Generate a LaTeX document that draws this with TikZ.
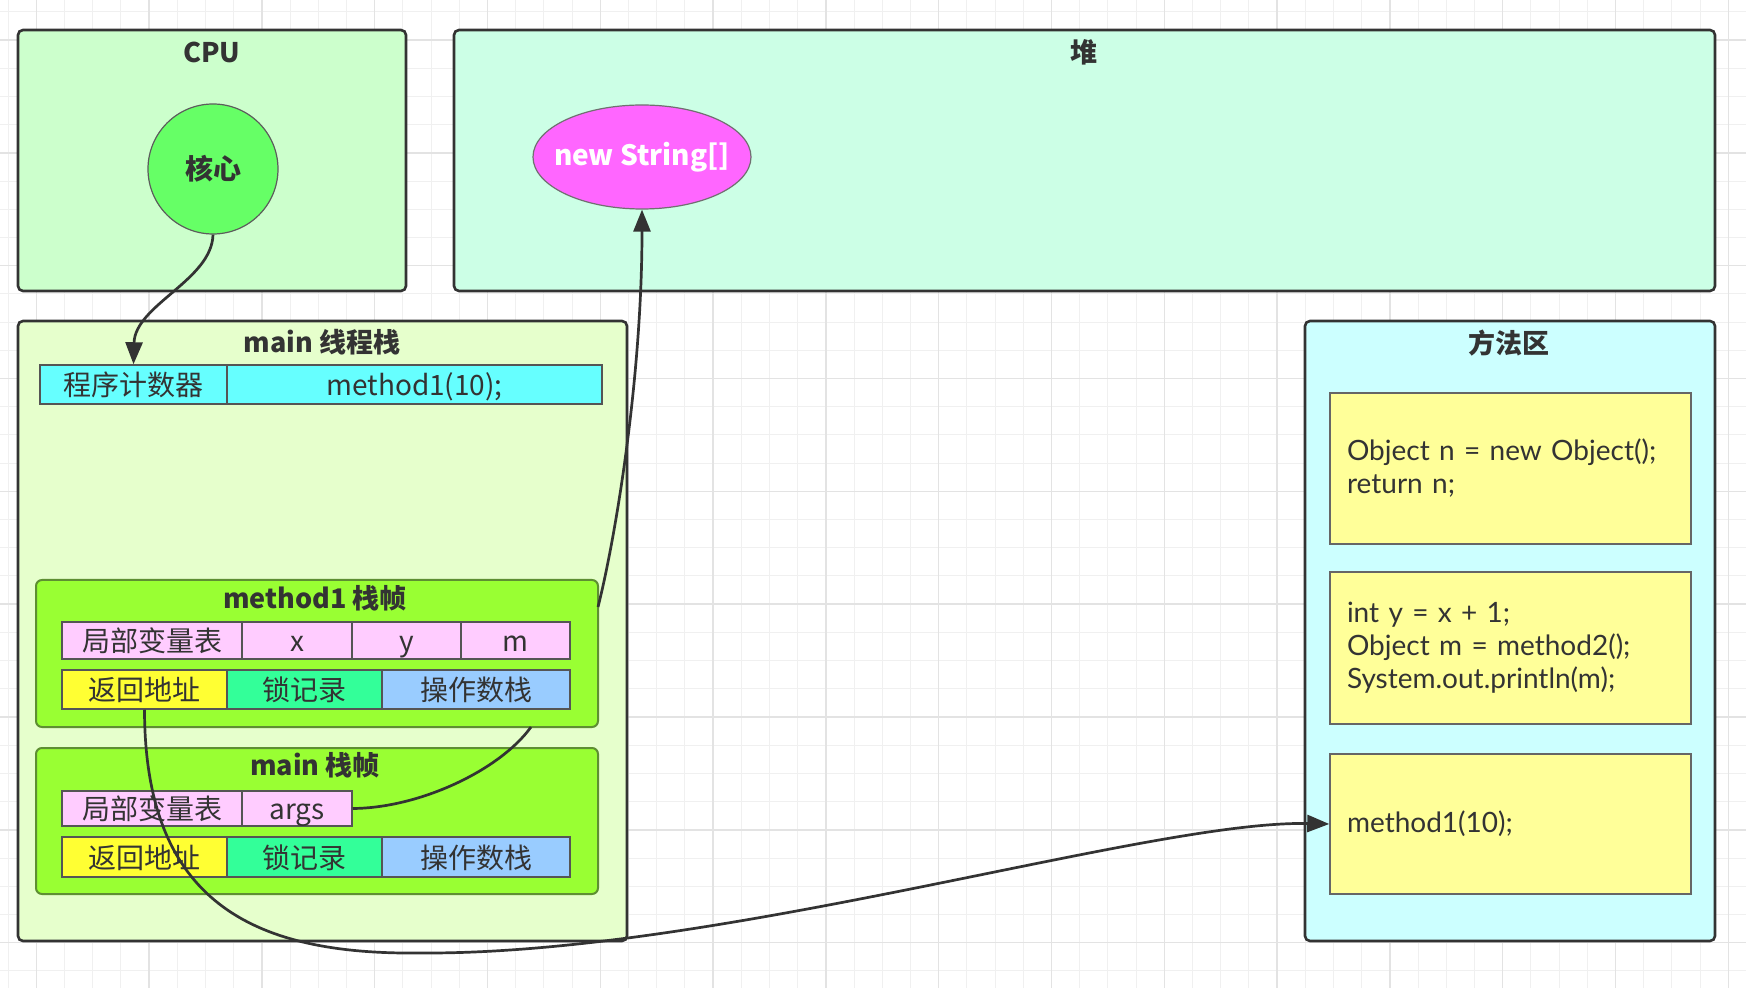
\documentclass[tikz,border=0pt]{standalone}
\usepackage{fontspec}
\setmainfont{Noto Sans CJK SC}
\newfontfamily\codefont{Lato}
\usetikzlibrary{arrows.meta,shapes.geometric}
\definecolor{ink}{HTML}{333333}
\definecolor{cellline}{HTML}{555555}
\definecolor{gridminor}{HTML}{F0F0F0}
\definecolor{gridmajor}{HTML}{E3E3E3}
\definecolor{cpuc}{HTML}{CCFFCC}
\definecolor{heapc}{HTML}{CCFFE6}
\definecolor{mainc}{HTML}{E6FFCC}
\definecolor{methc}{HTML}{CCFFFF}
\definecolor{framec}{HTML}{99FF33}
\definecolor{frameline}{HTML}{5E8F32}
\definecolor{pcc}{HTML}{66FFFF}
\definecolor{localc}{HTML}{FFCCFF}
\definecolor{retc}{HTML}{FFFF33}
\definecolor{lockc}{HTML}{33FF99}
\definecolor{opc}{HTML}{99CCFF}
\definecolor{codec}{HTML}{FFFF99}
\definecolor{corec}{HTML}{66FF66}
\definecolor{strc}{HTML}{FF66FF}
\begin{document}
\begin{tikzpicture}[x=0.5pt,y=-0.5pt,
  span/.style n args={4}{rectangle, minimum width={(#3-#1)*0.5pt}, minimum height={(#4-#2)*0.5pt},
    at={({(#1+#3)/2},{(#2+#4)/2})}},
  container/.style={draw=ink, line width=1.3pt, rounded corners=2.5pt, inner sep=0pt},
  framebox/.style={draw=frameline, line width=1pt, rounded corners=3pt, inner sep=0pt, fill=framec},
  titletext/.style={font=\bfseries\fontsize{13.5}{16}\selectfont, text=ink, inner sep=0pt},
  cell/.style={draw=cellline, line width=0.75pt, inner sep=0pt, text height=12.5pt, text depth=1.5pt,
    font=\fontsize{14}{16}\selectfont, text=ink},
  codebox/.style={draw=gray!80!black, line width=0.75pt, inner sep=0pt, fill=codec,
    text width=163.5pt, align=left, font=\codefont\fontsize{14}{16.5}\selectfont, text=ink},
  conn/.style={draw=ink, line width=1.35pt},
  tip/.style={-{Triangle[length=11pt,width=8.5pt]}}
]
\useasboundingbox (0,0) rectangle (1746,988);
\fill[white] (0,0) rectangle (1746,988);
% grid
\begin{scope}
\clip (0,0) rectangle (1746,988);
\foreach \i in {0,...,61} {\draw[gridminor, line width=0.5pt] ({8+28.2*\i},0) -- ({8+28.2*\i},988);}
\foreach \j in {0,...,35} {\draw[gridminor, line width=0.5pt] (0,{12+28.2*\j}) -- (1746,{12+28.2*\j});}
\foreach \i in {0,...,15} {\draw[gridmajor, line width=0.7pt] ({36.2+112.8*\i},0) -- ({36.2+112.8*\i},988);}
\foreach \j in {0,...,8} {\draw[gridmajor, line width=0.7pt] (0,{40.2+112.8*\j}) -- (1746,{40.2+112.8*\j});}
\end{scope}

% CPU
\node[container, fill=cpuc, span={18}{30}{406}{291}] (cpu) {};
\node[titletext] (cputitle) at (212,52) {CPU};
\node[circle, draw=ink!80, line width=0.6pt, fill=corec, minimum size=65pt, inner sep=0pt,
  font=\bfseries\fontsize{14}{16}\selectfont, text=ink] (core) at (213,169) {核心};

% heap
\node[container, fill=heapc, span={454}{30}{1715}{291}] (heap) {};
\node[titletext] (heaptitle) at (1084,52) {堆};
\node[ellipse, draw=ink!70, line width=0.6pt, fill=strc, minimum width=109pt, minimum height=52pt,
  inner sep=0pt, text=white, font=\bfseries\fontsize{14}{16}\selectfont] (str) at (642,157)
  {\makebox[0pt]{new String[]}};

% main thread stack
\node[container, fill=mainc, span={18}{321}{627}{941}] (mainstack) {};
\node[titletext] (maintitle) at (322,342) {main 线程栈};
\node[cell, fill=pcc, span={40}{365}{227}{404}] (pc1) {程序计数器};
\node[cell, fill=pcc, span={227}{365}{602}{404}] (pc2) {method1(10);};

% method1 frame
\node[framebox, span={36}{580}{598}{727}] (m1frame) {};
\node[titletext] (m1title) at (315,598) {method1 栈帧};
\node[cell, fill=localc, span={62}{622}{242}{659}] (m1loc) {局部变量表};
\node[cell, fill=localc, span={242}{622}{352}{659}] (m1x) {x};
\node[cell, fill=localc, span={352}{622}{461}{659}] (m1y) {y};
\node[cell, fill=localc, span={461}{622}{570}{659}] (m1m) {m};
\node[cell, fill=retc, span={62}{670}{227}{709}] (m1ret) {返回地址};
\node[cell, fill=lockc, span={227}{670}{382}{709}] (m1lock) {锁记录};
\node[cell, fill=opc, span={382}{670}{570}{709}] (m1op) {操作数栈};

% main frame
\node[framebox, span={36}{748}{598}{894}] (mframe) {};
\node[titletext] (mtitle) at (315,765) {main 栈帧};
\node[cell, fill=localc, span={62}{791}{242}{826}] (mloc) {局部变量表};
\node[cell, fill=localc, span={242}{791}{352}{826}] (margs) {args};
\node[cell, fill=retc, span={62}{837}{227}{877}] (mret) {返回地址};
\node[cell, fill=lockc, span={227}{837}{382}{877}] (mlock) {锁记录};
\node[cell, fill=opc, span={382}{837}{570}{877}] (mop) {操作数栈};

% method area
\node[container, fill=methc, span={1305}{321}{1715}{941}] (marea) {};
\node[titletext] (mareatitle) at (1509,343) {方法区};
\node[codebox, span={1330}{393}{1691}{544}] (code1) {Object n = new Object();\\return n;};
\node[codebox, span={1330}{572}{1691}{724}] (code2) {int y = x + 1;\\Object m = method2();\\System.out.println(m);};
\node[codebox, span={1330}{754}{1691}{894}] (code3) {method1(10);};

% connectors
\coordinate (m1out) at (598,607);
\coordinate (m1in) at (531,727);
\draw[conn, tip] (core.south) .. controls (212,280) and (135,305) .. (pc1.north);
\draw[conn, tip] (m1out) .. controls (615,540) and (642,380) .. (str.south);
\draw[conn] (margs.east) .. controls (420,808) and (500,770) .. (m1in);
\draw[conn, tip] (m1ret.south) .. controls (144.8,900) and (250,955) .. (420,953)
  .. controls (720,955) and (1150,820) .. (code3.west);
\end{tikzpicture}
\end{document}
